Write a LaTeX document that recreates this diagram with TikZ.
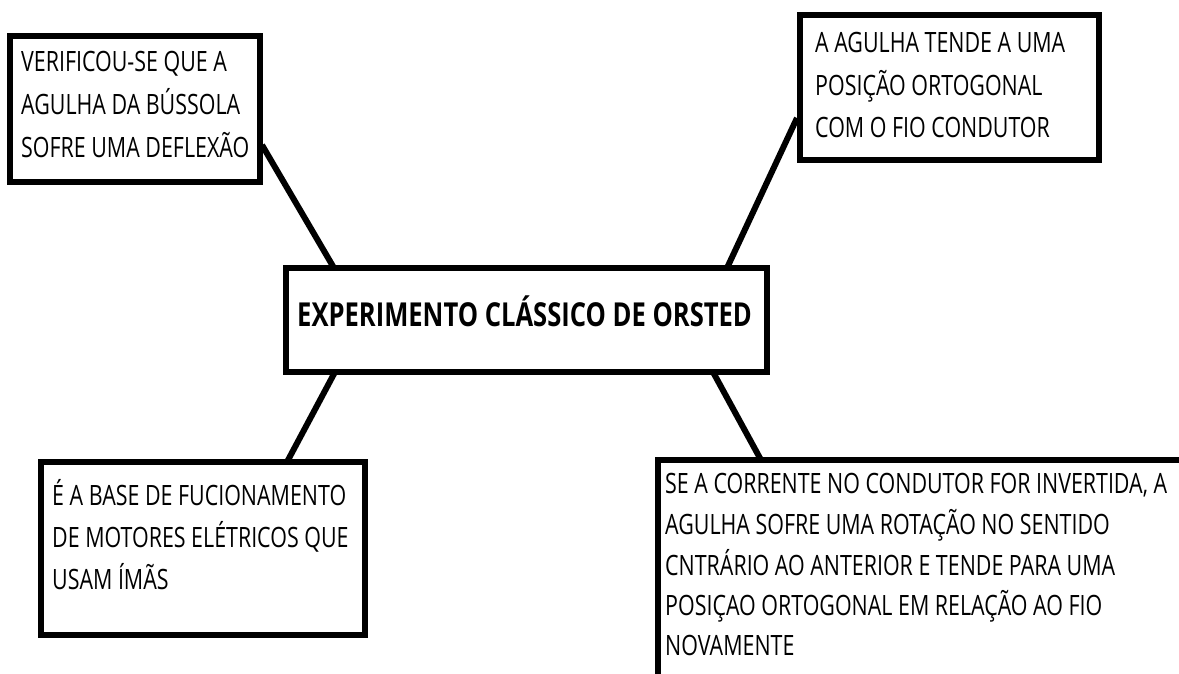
\documentclass[tikz,border=0pt]{standalone}
\usepackage{fontspec}
\setmainfont{Open Sans}[FakeStretch=0.765]
\newfontfamily\titlefont{Open Sans}[FakeStretch=0.775]
\begin{document}
\begin{tikzpicture}[x=1pt,y=-1pt,
  boxstyle/.style={draw=black,line width=6pt,rectangle,inner sep=0pt,fill=white},
  link/.style={line width=6pt,draw=black},
  txt/.style={anchor=base west,inner sep=0pt,font=\fontsize{28}{42}\selectfont},
  ttl/.style={anchor=base west,inner sep=0pt,font=\titlefont\bfseries\fontsize{33}{40}\selectfont}]
\clip (0,0) rectangle (1179,674);
\fill[white] (0,0) rectangle (1179,674);
% connectors first
\coordinate (c1) at (262,145);
\coordinate (m1) at (334,268);
\coordinate (c2) at (797,118);
\coordinate (m2) at (727,268);
\coordinate (m3) at (335,372);
\coordinate (c4) at (287,462);
\coordinate (m4) at (713,372);
\coordinate (c5) at (761,460);
\draw[link] (c1) -- (m1);
\draw[link] (c2) -- (m2);
\draw[link] (m3) -- (c4);
\draw[link] (m4) -- (c5);
% boxes
\node[boxstyle,minimum width=250pt,minimum height=146pt] (b1) at (135,109) {};
\node[boxstyle,minimum width=299pt,minimum height=145pt] (b2) at (949.5,87.5) {};
\node[boxstyle,minimum width=481pt,minimum height=104pt] (b0) at (526.5,320) {};
\node[boxstyle,minimum width=324pt,minimum height=173pt] (b4) at (203,548.5) {};
\node[boxstyle,minimum width=542pt,minimum height=240pt] (b5) at (929,580) {};
% texts
\node[txt] (t1a) at (21,72) {VERIFICOU-SE QUE A};
\node[txt] (t1b) at (21,115) {AGULHA DA BÚSSOLA};
\node[txt] (t1c) at (21,158) {SOFRE UMA DEFLEXÃO};
\node[txt] (t2a) at (815,53) {A AGULHA TENDE A UMA};
\node[txt] (t2b) at (815,96) {POSIÇÃO ORTOGONAL};
\node[txt] (t2c) at (815,138) {COM O FIO CONDUTOR};
\node[ttl] (t0) at (297,326) {EXPERIMENTO CLÁSSICO DE ORSTED};
\node[txt] (t4a) at (52,505) {É A BASE DE FUCIONAMENTO};
\node[txt] (t4b) at (52,547) {DE MOTORES ELÉTRICOS QUE};
\node[txt] (t4c) at (52,589) {USAM ÍMÃS};
\node[txt] (t5a) at (665,493) {SE A CORRENTE NO CONDUTOR FOR INVERTIDA, A};
\node[txt] (t5b) at (665,534) {AGULHA SOFRE UMA ROTAÇÃO NO SENTIDO};
\node[txt] (t5c) at (665,575) {CNTRÁRIO AO ANTERIOR E TENDE PARA UMA};
\node[txt] (t5d) at (665,615) {POSIÇAO ORTOGONAL EM RELAÇÃO AO FIO};
\node[txt] (t5e) at (665,655) {NOVAMENTE};
\end{tikzpicture}
\end{document}
